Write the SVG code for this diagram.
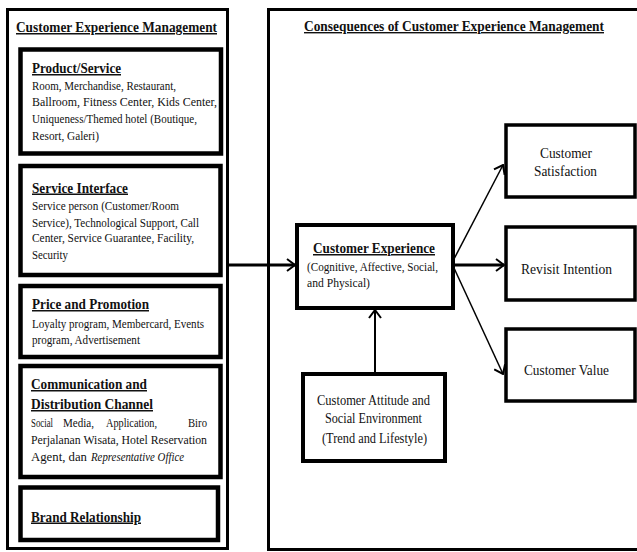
<svg xmlns="http://www.w3.org/2000/svg" width="637" height="552" viewBox="0 0 637 552">
<style>
text{font-family:"Liberation Serif","Times New Roman",serif;fill:#111;}
.h{font-weight:bold;font-size:15px;text-decoration:underline;}
.b{font-size:13px;}
.c{font-size:14.5px;}
.frame{fill:none;stroke:#000;stroke-width:3;}
.box{fill:#fff;stroke:#000;stroke-width:4.5;}
.box2{fill:#fff;stroke:#000;stroke-width:4;}
.box3{fill:#fff;stroke:#000;stroke-width:3.5;}
.ln{stroke:#000;fill:none;}
</style>
<defs>
<marker id="arr" viewBox="0 0 10 14" refX="9" refY="7" markerWidth="10" markerHeight="14" markerUnits="userSpaceOnUse" orient="auto">
<path d="M1,1 L9,7 L1,13" fill="none" stroke="#000" stroke-width="2"/>
</marker>
</defs>
<rect width="637" height="552" fill="#fff"/>

<g id="cem-frame">
<rect class="frame" x="7.5" y="9.5" width="220" height="539"/>
<text class="h" x="16" y="32" textLength="201" lengthAdjust="spacingAndGlyphs">Customer  Experience  Management</text>
</g>
<g id="consequences-frame">
<path class="frame" d="M637,9.5 H268.5 V549.5 H637" stroke-width="3.5"/>
<text class="h" x="304" y="31" style="font-size:14px" textLength="300" lengthAdjust="spacingAndGlyphs">Consequences of Customer Experience Management</text>
</g>

<g id="product-service">
<rect class="box" x="20.5" y="49.5" width="200.5" height="104"/>
<text class="h" x="32" y="73" textLength="89" lengthAdjust="spacingAndGlyphs">Product/Service</text>
<text class="b" x="32" y="90" textLength="144" lengthAdjust="spacingAndGlyphs">Room, Merchandise, Restaurant,</text>
<text class="b" x="32" y="106" textLength="185" lengthAdjust="spacingAndGlyphs">Ballroom, Fitness Center,  Kids Center,</text>
<text class="b" x="32" y="123" textLength="165" lengthAdjust="spacingAndGlyphs">Uniqueness/Themed hotel (Boutique,</text>
<text class="b" x="32" y="140" textLength="67" lengthAdjust="spacingAndGlyphs">Resort, Galeri)</text>
</g>

<g id="service-interface">
<rect class="box" x="20.5" y="166" width="200" height="109"/>
<text class="h" x="32" y="192.5" textLength="96" lengthAdjust="spacingAndGlyphs">Service Interface</text>
<text class="b" x="32" y="210" textLength="147" lengthAdjust="spacingAndGlyphs">Service person (Customer/Room</text>
<text class="b" x="32" y="226.5" textLength="167" lengthAdjust="spacingAndGlyphs">Service), Technological Support, Call</text>
<text class="b" x="32" y="242" textLength="162" lengthAdjust="spacingAndGlyphs">Center, Service Guarantee, Facility,</text>
<text class="b" x="32" y="259" textLength="36" lengthAdjust="spacingAndGlyphs">Security</text>
</g>

<g id="price-promotion">
<rect class="box" x="20.5" y="286" width="200" height="71"/>
<text class="h" x="32" y="309" textLength="117" lengthAdjust="spacingAndGlyphs">Price and Promotion</text>
<text class="b" x="32" y="327.5" textLength="172" lengthAdjust="spacingAndGlyphs">Loyalty program, Membercard, Events</text>
<text class="b" x="32" y="344" textLength="108" lengthAdjust="spacingAndGlyphs">program, Advertisement</text>
</g>

<g id="communication-distribution">
<rect class="box" x="20.5" y="366" width="200" height="111"/>
<text class="h" x="31" y="389" textLength="116" lengthAdjust="spacingAndGlyphs">Communication  and</text>
<text class="h" x="31" y="409" textLength="122" lengthAdjust="spacingAndGlyphs">Distribution  Channel</text>
<text class="b" x="31" y="426.5" textLength="22" lengthAdjust="spacingAndGlyphs">Social</text>
<text class="b" x="63" y="426.5" textLength="31" lengthAdjust="spacingAndGlyphs">Media,</text>
<text class="b" x="106" y="426.5" textLength="51" lengthAdjust="spacingAndGlyphs">Application,</text>
<text class="b" x="188" y="426.5" textLength="19" lengthAdjust="spacingAndGlyphs">Biro</text>
<text class="b" x="31" y="444" textLength="176" lengthAdjust="spacingAndGlyphs">Perjalanan Wisata, Hotel Reservation</text>
<text class="b" x="31" y="461" textLength="56" lengthAdjust="spacingAndGlyphs">Agent, dan</text>
<text class="b" x="91" y="461" textLength="93" lengthAdjust="spacingAndGlyphs" font-style="italic">Representative Office</text>
</g>

<g id="brand-relationship">
<rect class="box" x="20.5" y="487.5" width="197.5" height="52.5"/>
<text class="h" x="31" y="521.5" textLength="110" lengthAdjust="spacingAndGlyphs">Brand Relationship</text>
</g>

<g id="customer-experience">
<rect class="box2" x="297" y="225" width="156" height="83"/>
<text class="h" x="313" y="253" textLength="122" lengthAdjust="spacingAndGlyphs">Customer  Experience</text>
<text class="b" x="307" y="270.5" textLength="131" lengthAdjust="spacingAndGlyphs">(Cognitive, Affective, Social,</text>
<text class="b" x="307" y="286.5" textLength="63" lengthAdjust="spacingAndGlyphs">and Physical)</text>
</g>

<g id="customer-attitude">
<rect class="box2" x="303" y="374" width="142" height="87"/>
<text class="c" x="317" y="405" textLength="113" lengthAdjust="spacingAndGlyphs">Customer Attitude and</text>
<text class="c" x="325" y="423" textLength="97" lengthAdjust="spacingAndGlyphs">Social  Environment</text>
<text class="c" x="322" y="443" textLength="105" lengthAdjust="spacingAndGlyphs">(Trend and Lifestyle)</text>
</g>

<g id="customer-satisfaction">
<rect class="box3" x="506" y="125" width="129" height="72"/>
<text class="c" x="540" y="158" textLength="52" lengthAdjust="spacingAndGlyphs">Customer</text>
<text class="c" x="534" y="176" textLength="63" lengthAdjust="spacingAndGlyphs">Satisfaction</text>
</g>

<g id="revisit-intention">
<rect class="box3" x="506" y="227" width="129" height="73"/>
<text class="c" x="521" y="274" textLength="91" lengthAdjust="spacingAndGlyphs">Revisit  Intention</text>
</g>

<g id="customer-value">
<rect class="box3" x="506" y="329" width="129" height="72"/>
<text class="c" x="524" y="375" textLength="85" lengthAdjust="spacingAndGlyphs">Customer Value</text>
</g>

<g id="connectors">
<line class="ln" x1="229" y1="265" x2="295" y2="265" stroke-width="3" marker-end="url(#arr)"/>
<line class="ln" x1="375" y1="372" x2="375" y2="310" stroke-width="2" marker-end="url(#arr)"/>
<line class="ln" x1="454" y1="259" x2="503" y2="165" stroke-width="1.5" marker-end="url(#arr)"/>
<line class="ln" x1="455" y1="265" x2="504" y2="265" stroke-width="3" marker-end="url(#arr)"/>
<line class="ln" x1="454" y1="268" x2="503" y2="374" stroke-width="1.5" marker-end="url(#arr)"/>
</g>
</svg>
